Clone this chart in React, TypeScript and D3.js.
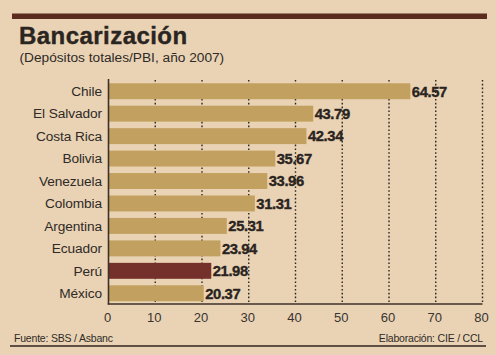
import React from "react";
import * as d3 from "d3";

const categories = ["Chile", "El Salvador", "Costa Rica", "Bolivia", "Venezuela", "Colombia", "Argentina", "Ecuador", "Perú", "México"];
const values = [64.57, 43.79, 42.34, 35.67, 33.96, 31.31, 25.31, 23.94, 21.98, 20.37];
const highlight = ["Perú"];
const xTicks = [0, 10, 20, 30, 40, 50, 60, 70, 80];

const W = 496, H = 355;
const FONT = "'Liberation Sans', Arial, Helvetica, sans-serif";

export default function App() {
  const x = d3.scaleLinear().domain([0, 80]).range([108.5, 482.5]);
  const y = d3.scaleBand<string>().domain(categories).range([80, 304.5]).paddingInner(0.29).paddingOuter(0.145);
  const bw = y.bandwidth();
  return (
    <svg width={W} height={H} style={{ position: "absolute", left: 0, top: 0, background: "#e9d3b4" }} fontFamily={FONT}>
      <rect x={0} y={0} width={W} height={H} fill="#e9d3b4" />
      <rect x={12} y={13.5} width={475} height={5.5} fill="#5b2b1f" />
      <text x={19} y={44} fontSize={24} fontWeight={700} fill="#2b2521" letterSpacing={0.45} stroke="#2b2521" strokeWidth={0.4}>Bancarización</text>
      <text x={19.5} y={62} fontSize={13.7} fill="#2f2a27">(Depósitos totales/PBI, año 2007)</text>

      {xTicks.filter(t => t > 0).map(t => (
        <line key={"g" + t} x1={x(t)} x2={x(t)} y1={80} y2={304} stroke="#2a2522" strokeWidth={1.4} strokeDasharray="1.6,2.2" />
      ))}

      {categories.map((c, i) => (
        <g key={c}>
          <rect x={x(0)} y={y(c)!} width={x(values[i]) - x(0)} height={bw} fill={highlight.includes(c) ? "#74302a" : "#c2a160"} />
          <text x={102} y={y(c)! + bw / 2 + 4.8} fontSize={13.7} textAnchor="end" fill="#2f2a27" letterSpacing={-0.1}>{c}</text>
          <text x={x(values[i]) + 1.5} y={y(c)! + bw / 2 + 5.3} fontSize={14.8} fontWeight={700} fill="#2a2320" stroke="#2a2320" strokeWidth={0.35} letterSpacing={-0.4}>{values[i].toFixed(2)}</text>
        </g>
      ))}

      <line x1={x(0)} x2={x(0)} y1={79} y2={304.5} stroke="#3e3029" strokeWidth={1.6} />
      <line x1={x(0) - 0.8} x2={x(80)} y1={304} y2={304} stroke="#3e3029" strokeWidth={1.6} />

      {xTicks.map(t => (
        <text key={"t" + t} x={x(t) - 1} y={322} fontSize={13} textAnchor="middle" fill="#3a3330">{t}</text>
      ))}

      <text x={14} y={341.5} fontSize={10.5} fill="#2f2a27" letterSpacing={-0.2}>Fuente: SBS / Asbanc</text>
      <text x={483} y={341.5} fontSize={10.5} fill="#2f2a27" textAnchor="end" letterSpacing={-0.2}>Elaboración: CIE / CCL</text>
      <line x1={10} x2={486} y1={346} y2={346} stroke="#2f2520" strokeWidth={1.4} />
    </svg>
  );
}
